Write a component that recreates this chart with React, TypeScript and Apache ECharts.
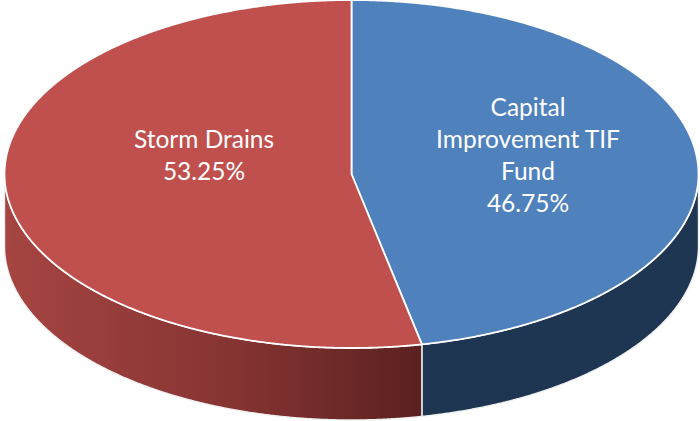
import React, { useEffect, useRef } from "react";
import * as echarts from "echarts";

const categories = ["Capital\nImprovement TIF\nFund", "Storm Drains"];
const shares = [46.75, 53.25];
const topColors = ["#4F81BD", "#C0504D"];
const wallStops = [
  [[0, "#1D3550"], [1, "#1F3652"]],
  [[0, "#A64542"], [0.55, "#853432"], [1, "#5A2120"]],
];
const labelCentres = [[528, 154], [204, 154]];

const WIDTH = 700;
const HEIGHT = 421;
const CX = 351.5;
const CY = 174;
const RX = 347;
const RY = 174;
const DEPTH = 72;
const STEP = Math.PI / 720;

// Angles run clockwise from twelve o'clock, in radians.
const rimPoint = (a: number, dy = 0) => [CX + RX * Math.sin(a), CY - RY * Math.cos(a) + dy];

const rim = (a0: number, a1: number, dy = 0) => {
  const n = Math.ceil(Math.abs(a1 - a0) / STEP);
  return Array.from({ length: n + 1 }, (_, k) => rimPoint(a0 + ((a1 - a0) * k) / n, dy));
};

const topPoints = (a0: number, a1: number) => [[CX, CY], ...rim(a0, a1)];

// Outer wall of a slice: only the part of its rim on the near half is visible.
const wallPoints = (a0: number, a1: number) => {
  const s = Math.max(a0, Math.PI / 2);
  const e = Math.min(a1, (3 * Math.PI) / 2);
  return [...rim(s, e), ...rim(e, s, DEPTH)];
};

const total = shares.reduce((a, b) => a + b, 0);
const angleBefore = (i: number) =>
  (shares.slice(0, i).reduce((a, b) => a + b, 0) / total) * 2 * Math.PI;

export default function App() {
  const ref = useRef<HTMLDivElement>(null);

  useEffect(() => {
    document.body.style.margin = "0";
    const chart = echarts.init(ref.current!, undefined, { renderer: "svg" });
    chart.setOption({
      animation: false,
      backgroundColor: "#FFFFFF",
      series: [
        {
          type: "custom",
          coordinateSystem: "none",
          silent: true,
          clip: false,
          data: shares.map((v, i) => ({ name: categories[i], value: v })),
          renderItem: (params: any, api: any) => {
            const i = params.dataIndex;
            const a0 = angleBefore(i);
            const a1 = a0 + (api.value(0) / total) * 2 * Math.PI;
            return {
              type: "group",
              children: [
                {
                  type: "polygon",
                  shape: { points: wallPoints(a0, a1) },
                  style: {
                    fill: new echarts.graphic.LinearGradient(
                      0, 0, 1, 0,
                      wallStops[i].map(([offset, color]) => ({ offset, color })) as any,
                    ),
                    stroke: "#F0F0F0",
                    lineWidth: 1.4,
                  },
                },
                {
                  type: "polygon",
                  shape: { points: topPoints(a0, a1) },
                  style: { fill: topColors[i], stroke: "#FFFFFF", lineWidth: 1.8, lineJoin: "round" },
                },
              ],
            };
          },
        },
        {
          // Slice captions sit above both slices, so they get their own layer.
          type: "custom",
          coordinateSystem: "none",
          silent: true,
          z: 5,
          data: shares.map((v, i) => ({ name: categories[i], value: v })),
          renderItem: (params: any, api: any) => {
            const i = params.dataIndex;
            return {
              type: "text",
              x: labelCentres[i][0],
              y: labelCentres[i][1],
              style: {
                text: `${categories[i]}\n${api.value(0).toFixed(2)}%`,
                fill: "#FFFFFF",
                font: '24.5px Lato, "Noto Sans", sans-serif',
                lineHeight: 32,
                align: "center",
                verticalAlign: "middle",
              },
            };
          },
        },
      ],
    });
    return () => chart.dispose();
  }, []);

  return <div ref={ref} style={{ width: WIDTH, height: HEIGHT }} />;
}
